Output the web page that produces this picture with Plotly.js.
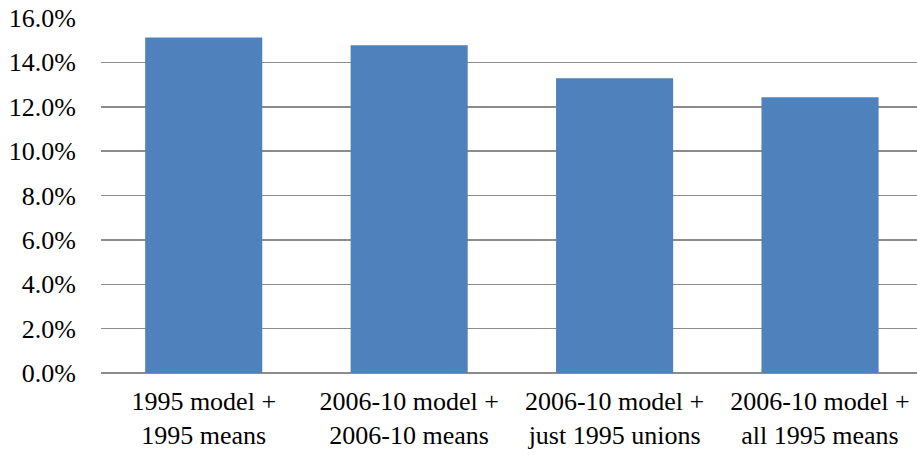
<!DOCTYPE html>
<html>
<head>
<meta charset="utf-8">
<script src="https://cdn.plot.ly/plotly-3.0.1.min.js"></script>
<style>html,body{margin:0;padding:0;background:#fff;}#chart{width:917px;height:455px;}</style>
</head>
<body>
<div id="chart"></div>
<script>
const categories = [
  "1995 model +<br>1995 means",
  "2006-10 model +<br>2006-10 means",
  "2006-10 model +<br>just 1995 unions",
  "2006-10 model +<br>all 1995 means"
];
const values = [0.1512, 0.1477, 0.1329, 0.1243];
const yTickVals = [0, 0.02, 0.04, 0.06, 0.08, 0.10, 0.12, 0.14, 0.16];
const yTickText = ["0.0%", "2.0%", "4.0%", "6.0%", "8.0%", "10.0%", "12.0%", "14.0%", "16.0%"];

const fontFamily = "Liberation Serif";

Plotly.newPlot("chart", [{
  type: "bar",
  x: [0, 1, 2, 3],
  y: values,
  marker: {color: "#4f81bd", line: {width: 0}},
  hoverinfo: "none"
}], {
  width: 917,
  height: 455,
  margin: {l: 101, r: 0, t: 18, b: 82},
  paper_bgcolor: "#ffffff",
  plot_bgcolor: "#ffffff",
  bargap: 0.43,
  showlegend: false,
  font: {family: fontFamily, size: 26, color: "#000000"},
  xaxis: {
    range: [-0.5, 3.472],
    tickvals: [0, 1, 2, 3],
    ticktext: categories,
    showgrid: false,
    showline: false,
    zeroline: false,
    ticks: "",
    ticklabelstandoff: 10,
    tickfont: {family: fontFamily, size: 26, color: "#000000"},
    fixedrange: true
  },
  yaxis: {
    range: [0, 0.16],
    tickvals: yTickVals,
    ticktext: yTickText,
    showgrid: true,
    gridcolor: "#8c8c8c",
    gridwidth: 1.5,
    zeroline: true,
    zerolinecolor: "#8c8c8c",
    zerolinewidth: 2,
    showline: false,
    ticks: "",
    ticklabelstandoff: 24,
    tickfont: {family: fontFamily, size: 26, color: "#000000"},
    fixedrange: true
  }
}, {displayModeBar: false, staticPlot: true});
</script>
</body>
</html>
